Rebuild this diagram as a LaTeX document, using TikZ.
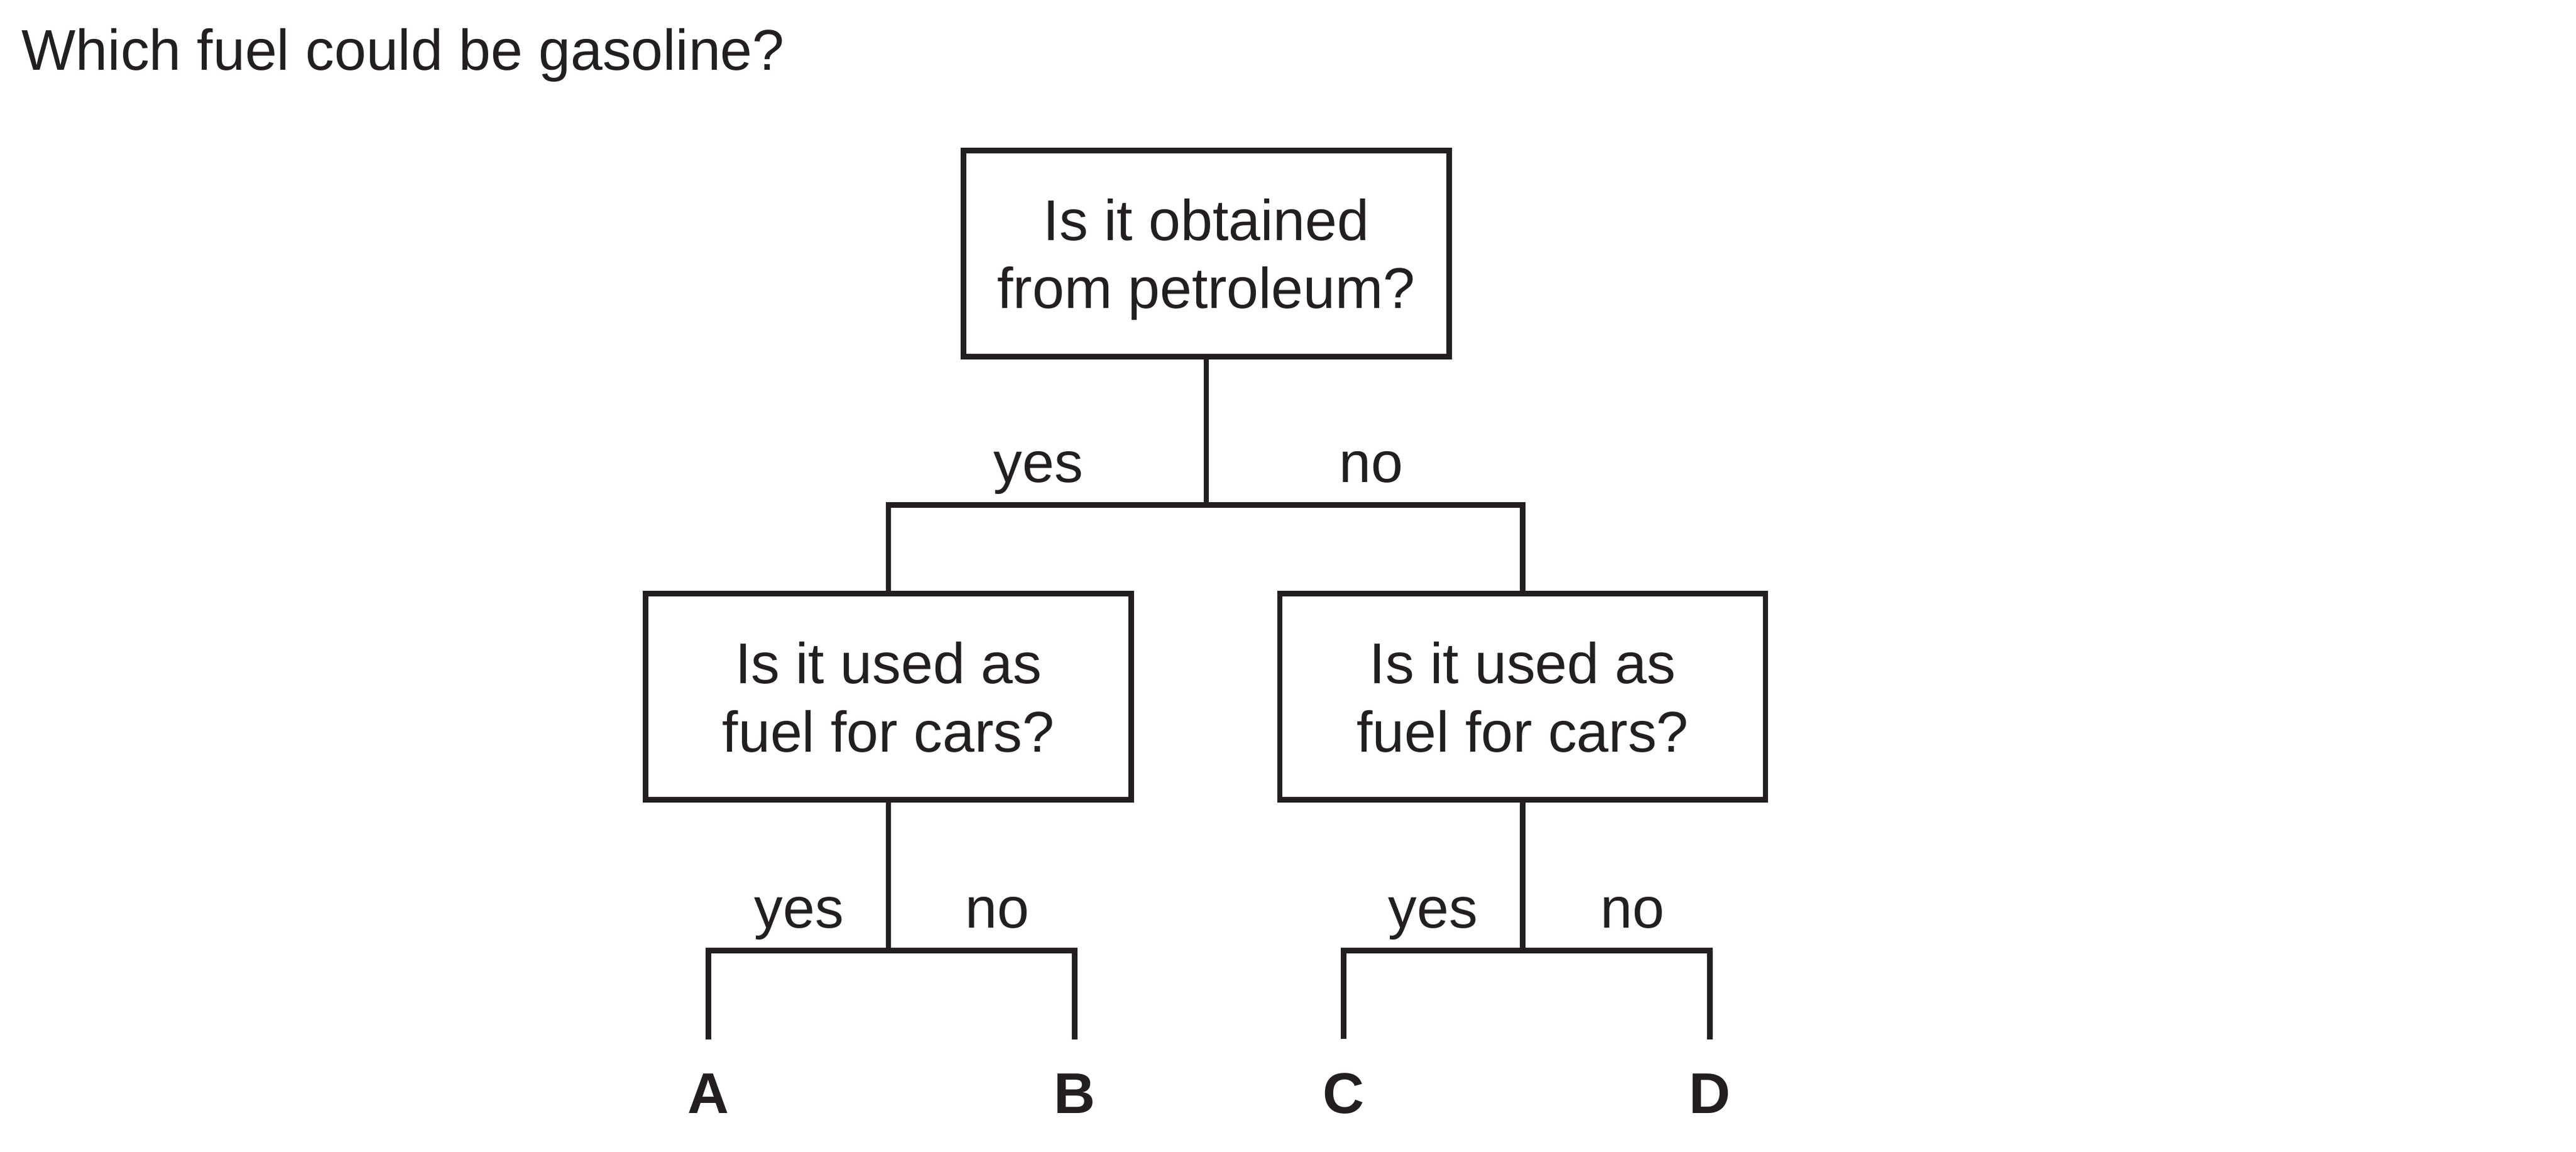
\documentclass[tikz,border=0pt]{standalone}
\usepackage{fontspec}
\setmainfont{Liberation Sans}
\usepackage{tikz}
\usetikzlibrary{positioning, calc}
\definecolor{ink}{RGB}{35,31,32}

\tikzset{
    question/.style={draw, line width=2.5pt, minimum width=7.73cm, minimum height=3.275cm, align=center, inner sep=0pt, text depth=0pt, font=\fontsize{26}{30.9}\selectfont},
    answer/.style={anchor=base, inner sep=0pt, font=\fontsize{26}{30.9}\selectfont},
    leaf/.style={anchor=base, inner sep=0pt, outer ysep=0.54cm, font=\fontsize{26}{30.9}\selectfont\bfseries},
    link/.style={line width=2.5pt}
}

\begin{document}
\begin{tikzpicture}[color=ink]

        % Khung trang
        \useasboundingbox (0,0) rectangle (41,-18.32);

        % Cau hoi
        \node[anchor=base west, inner sep=0pt, font=\fontsize{26}{30.9}\selectfont] (title) at (0.34,-1.11) {Which fuel could be gasoline?};

        % Cac hop cau hoi
        \node[question] (petrol) at (19.20,-4.035) {Is it obtained\\from petroleum?}; % Hop tren
        \node[question] (carsyes) at (14.14,-11.086) {Is it used as\\fuel for cars?}; % Hop trai
        \node[question] (carsno) at (24.235,-11.086) {Is it used as\\fuel for cars?}; % Hop phai

        % Cac dap an
        \node[leaf] (A) at (11.275,-17.71) {A};
        \node[leaf] (B) at (17.105,-17.71) {B};
        \node[leaf] (C) at (21.385,-17.71) {C};
        \node[leaf] (D) at (27.215,-17.71) {D};

        % Cac diem re nhanh
        \coordinate (topfork) at (19.20,-8.033);
        \coordinate (leftfork) at (14.14,-15.125);
        \coordinate (rightfork) at (24.235,-15.125);

        % Ve cac duong noi
        \draw[link] (petrol.south) -- (topfork);
        \draw[link] (carsyes.north) |- (topfork) -| (carsno.north);
        \draw[link] (carsyes.south) -- (leftfork);
        \draw[link] (A.north) |- (leftfork) -| (B.north);
        \draw[link] (carsno.south) -- (rightfork);
        \draw[link] (C.north) |- (rightfork) -| (D.north);

        % Nhan yes / no
        \node[answer] (yes1) at (16.53,-7.67) {yes};
        \node[answer] (no1) at (21.82,-7.67) {no};
        \node[answer] (yes2) at (12.72,-14.76) {yes};
        \node[answer] (no2) at (15.87,-14.76) {no};
        \node[answer] (yes3) at (22.81,-14.76) {yes};
        \node[answer] (no3) at (25.98,-14.76) {no};

\end{tikzpicture}
\end{document}
